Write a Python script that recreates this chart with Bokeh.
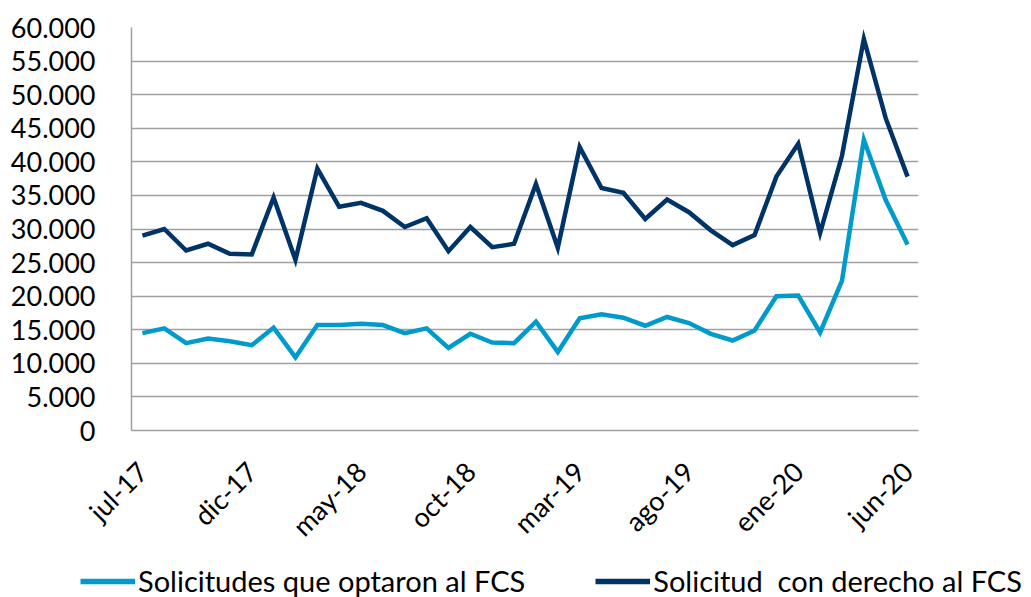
import math
from bokeh.plotting import figure
from bokeh.models import Legend, LegendItem, FixedTicker, Range1d
from bokeh.embed import file_html
from bokeh.resources import INLINE

months = ["jul-17","ago-17","sep-17","oct-17","nov-17","dic-17",
          "ene-18","feb-18","mar-18","abr-18","may-18","jun-18",
          "jul-18","ago-18","sep-18","oct-18","nov-18","dic-18",
          "ene-19","feb-19","mar-19","abr-19","may-19","jun-19",
          "jul-19","ago-19","sep-19","oct-19","nov-19","dic-19",
          "ene-20","feb-20","mar-20","abr-20","may-20","jun-20"]

optaron = [14500,15200,13000,13700,13300,12700,
           15300,10900,15700,15700,15900,15700,
           14500,15200,12300,14400,13100,13000,
           16200,11700,16700,17300,16800,15600,
           16900,16000,14400,13400,14900,20000,
           20100,14600,22300,43300,34300,27700]

derecho = [29000,30000,26800,27800,26300,26200,
           34700,25400,39000,33300,33900,32700,
           30300,31600,26700,30300,27300,27800,
           36700,27200,42200,36100,35400,31500,
           34400,32500,29800,27600,29100,37800,
           42700,29400,40900,58300,46500,37800]

series_names = ["Solicitudes que optaron al FCS", "Solicitud  con derecho al FCS"]
colors = ["#009ACB", "#003366"]
y_ticks = list(range(0, 60001, 5000))

FONT = "Lato"
x = list(range(len(months)))

p = figure(frame_width=787, frame_height=403, output_backend="svg", toolbar_location=None,
           x_range=Range1d(-0.5, len(months) - 0.5), y_range=Range1d(0, 60000),
           min_border_left=131, min_border_right=113, min_border_top=27, min_border_bottom=125)
p.outline_line_color = None

p.line(x, optaron, line_color=colors[0], line_width=4.5, line_join="miter")
p.line(x, derecho, line_color=colors[1], line_width=4.5, line_join="miter")

# y axis
p.yaxis.ticker = FixedTicker(ticks=y_ticks)
p.yaxis.major_label_overrides = {v: ("0" if v == 0 else f"{v:,}".replace(",", ".")) for v in y_ticks}
p.yaxis.major_tick_line_color = None
p.yaxis.minor_tick_line_color = None
p.yaxis.axis_line_color = "#a0a0a0"
p.yaxis.axis_line_width = 1.5
p.yaxis.major_label_text_font = FONT
p.yaxis.major_label_text_font_size = "27px"
p.yaxis.major_label_text_color = "#000000"
p.yaxis.major_label_standoff = 30

# x axis
xt = list(range(0, len(months), 5))
p.xaxis.ticker = FixedTicker(ticks=xt)
p.xaxis.major_label_overrides = {i: months[i] for i in xt}
p.xaxis.major_label_orientation = math.pi / 4
p.xaxis.major_tick_line_color = None
p.xaxis.minor_tick_line_color = None
p.xaxis.axis_line_color = "#a0a0a0"
p.xaxis.axis_line_width = 1.5
p.xaxis.major_label_text_font = FONT
p.xaxis.major_label_text_font_size = "27px"
p.xaxis.major_label_text_color = "#000000"
p.xaxis.major_label_standoff = 30

p.xgrid.grid_line_color = None
p.ygrid.ticker = FixedTicker(ticks=y_ticks)
p.ygrid.grid_line_color = "#a0a0a0"
p.ygrid.grid_line_width = 1.5

# legend strip below the chart (separate root, so its frame is not aligned)
nan = float("nan")
lg = figure(width=1031, height=42, output_backend="svg", toolbar_location=None,
            x_range=Range1d(0, 1), y_range=Range1d(0, 1),
            min_border_left=0, min_border_right=0,
            min_border_top=0, min_border_bottom=0)
lg.axis.visible = False
lg.grid.visible = False
lg.outline_line_color = None
d1 = lg.line([nan, nan], [nan, nan], line_color=colors[0], line_width=5.5)
d2 = lg.line([nan, nan], [nan, nan], line_color=colors[1], line_width=5.5)
legend = Legend(items=[LegendItem(label=series_names[0], renderers=[d1]),
                       LegendItem(label=series_names[1], renderers=[d2])],
                orientation="horizontal", location=(80, 0),
                label_text_font=FONT, label_text_font_size="29px",
                label_text_color="#000000", glyph_width=55, glyph_height=20,
                label_standoff=3, spacing=70, padding=0, margin=0,
                border_line_color=None, background_fill_alpha=0)
lg.add_layout(legend, "center")

open("out.html", "w").write(file_html((p, lg), INLINE))
